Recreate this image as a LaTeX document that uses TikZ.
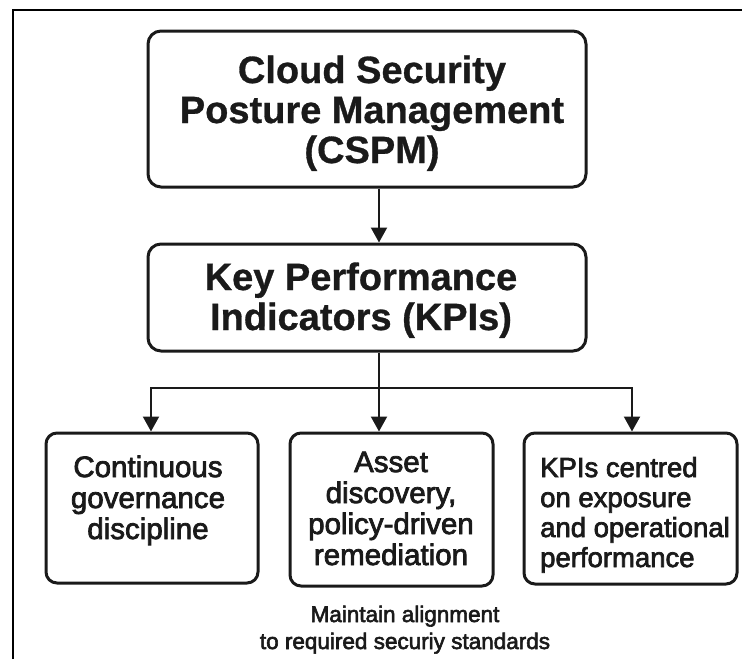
\documentclass[tikz,border=0pt]{standalone}
\usepackage{fontspec}
\setmainfont{Liberation Sans}
\newfontfamily\semibold[FakeBold=2.6]{Liberation Sans}
\newfontfamily\heavyfont[BoldFont={Liberation Sans Bold}, BoldFeatures={FakeBold=0.8}]{Liberation Sans}
\usetikzlibrary{arrows.meta}

\definecolor{ink}{HTML}{1A1A1A}

\tikzset{
  panel/.style={draw=ink, line width=3pt, rounded corners=13pt, inner sep=0pt},
  smallpanel/.style={panel, rounded corners=11pt},
  heading/.style={anchor=base, inner sep=0pt, text=ink,
    font=\heavyfont\bfseries\fontsize{38}{40}\selectfont},
  itemtext/.style={anchor=base, inner sep=0pt, text=ink,
    font=\semibold\fontsize{29.5}{31}\selectfont},
  notetext/.style={anchor=base, inner sep=0pt, text=ink,
    font=\semibold\fontsize{22.5}{27}\selectfont},
  link/.style={draw=ink, line width=2.2pt},
  flow/.style={link, -{Triangle[width=16pt,length=15pt]}},
  frameline/.style={draw=black, line width=2pt}
}

\begin{document}
\begin{tikzpicture}[x=1pt, y=-1pt]
\useasboundingbox (0,0) rectangle (742,659);

% outer frame (top and left edges)
\draw[frameline] (12.5,659) -- (12.5,9.5) -- (742,9.5);

% main boxes
\node[panel, minimum width=438pt, minimum height=156pt] (cspm) at (367,109) {};
\node[heading] (cspmtitle) at (372,83)
  {\begin{tabular}[t]{@{}c@{}}Cloud Security\\Posture Management\\(CSPM)\end{tabular}};

\node[panel, minimum width=438pt, minimum height=107pt] (kpi) at (367,297.5) {};
\node[heading] (kpititle) at (361,290)
  {\begin{tabular}[t]{@{}c@{}}Key Performance\\Indicators (KPIs)\end{tabular}};

% the three KPI areas
\node[smallpanel, minimum width=212pt, minimum height=150pt] (govern) at (152,508) {};
\node[itemtext] (governtext) at (148,477)
  {\begin{tabular}[t]{@{}c@{}}Continuous\\governance\\discipline\end{tabular}};

\node[smallpanel, minimum width=203pt, minimum height=153pt] (asset) at (391.5,509.5) {};
\node[itemtext] (assettext) at (391,472)
  {\begin{tabular}[t]{@{}c@{}}Asset\\discovery,\\policy-driven\\remediation\end{tabular}};

\node[smallpanel, minimum width=213pt, minimum height=151pt] (expo) at (630.5,508.5) {};
\node[itemtext, anchor=base west, font=\semibold\fontsize{27.5}{30}\selectfont]
  (expotext) at (540,477)
  {\begin{tabular}[t]{@{}l@{}}KPIs centred\\on exposure\\and operational\\performance\end{tabular}};

% note under the boxes
\node[notetext] (note) at (405,622)
  {\begin{tabular}[t]{@{}c@{}}Maintain alignment\\to required securiy standards\end{tabular}};

% connectors
\coordinate (trunk) at (379,0);
\coordinate (busL) at (151,388);
\coordinate (busR) at (632,388);

\draw[flow] (cspm.south -| trunk) -- (kpi.north -| trunk);
\draw[flow] (kpi.south -| trunk) -- (asset.north -| trunk);
\draw[flow] (trunk |- busL) -- (busL) -- (govern.north -| busL);
\draw[flow] (trunk |- busR) -- (busR) -- (expo.north -| busR);
\end{tikzpicture}
\end{document}
